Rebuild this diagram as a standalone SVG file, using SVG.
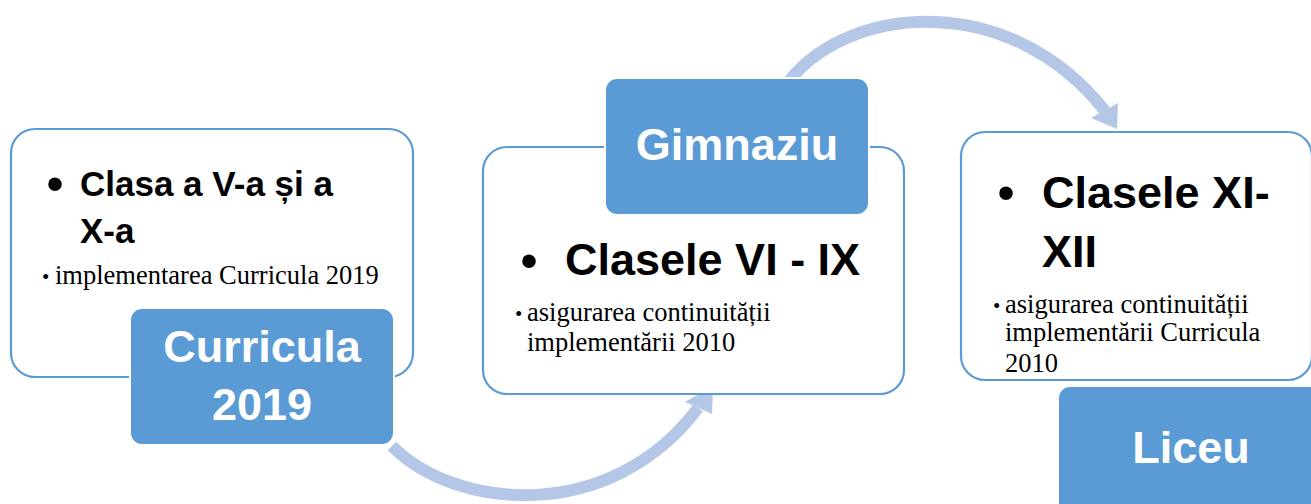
<svg xmlns="http://www.w3.org/2000/svg" width="1311" height="504" viewBox="0 0 1311 504">
<style>
.card{fill:#fff;stroke:#5B9BD5;stroke-width:2.2}
.tag{fill:#5B9BD5;stroke:#fff;stroke-width:2}
.arc{fill:none;stroke:#B4C7E7;stroke-width:12}
.head{fill:#B4C7E7}
.big{font-family:"Liberation Sans",Arial,sans-serif;font-weight:bold;fill:#000}
.bul{font-family:"Liberation Sans",Arial,sans-serif;font-size:50px;fill:#000;text-anchor:middle}
.sm{font-family:"Liberation Serif","Times New Roman",serif;font-size:26.5px;fill:#000}
.lab{font-family:"Liberation Sans",Arial,sans-serif;font-weight:bold;font-size:45px;fill:#fff;text-anchor:middle}
</style>
<rect width="1311" height="504" fill="#fff"/>
<g id="connectors">
<path class="arc" d="M 392 446 C 455 510, 610 525, 698 408"/>
<polygon class="head" points="685,402 713,386 712,414"/>
<path class="arc" d="M 790 80 C 850 5, 1010 -10, 1105 111"/>
<polygon class="head" points="1091,118 1118,103 1117,129"/>
</g>
<g id="node-curricula">
<rect class="card" x="11" y="129" width="402" height="248" rx="24"/>
<text class="bul" x="55" y="201">•</text>
<text class="big" font-size="35" x="80" y="196">Clasa a V-a și a</text>
<text class="big" font-size="35" x="80" y="243">X-a</text>
<text class="sm" y="284"><tspan x="42" font-size="21">•</tspan><tspan x="55">implementarea Curricula 2019</tspan></text>
<rect class="tag" x="130" y="308" width="264" height="137" rx="12"/>
<text class="lab" x="262" y="362">Curricula</text>
<text class="lab" x="262" y="420">2019</text>
</g>
<g id="node-gimnaziu">
<rect class="card" x="483" y="147" width="421" height="247" rx="24"/>
<text class="bul" x="529" y="278">•</text>
<text class="big" font-size="45" x="565" y="275">Clasele VI - IX</text>
<text class="sm" y="321"><tspan x="515" font-size="21">•</tspan><tspan x="527">asigurarea continuității</tspan></text>
<text class="sm" x="527" y="351">implementării 2010</text>
<rect class="tag" x="605" y="78" width="264" height="137" rx="12"/>
<text class="lab" x="737" y="160">Gimnaziu</text>
</g>
<g id="node-liceu">
<rect class="card" x="961" y="132" width="351" height="248" rx="24"/>
<text class="bul" x="1006" y="210">•</text>
<text class="big" font-size="45" x="1042" y="208">Clasele XI-</text>
<text class="big" font-size="45" x="1042" y="267">XII</text>
<text class="sm" y="313"><tspan x="993" font-size="21">•</tspan><tspan x="1005">asigurarea continuității</tspan></text>
<text class="sm" x="1005" y="341">implementării Curricula</text>
<text class="sm" x="1005" y="372">2010</text>
<rect class="tag" x="1058" y="386" width="266" height="140" rx="12"/>
<text class="lab" x="1191" y="463">Liceu</text>
</g>
</svg>
